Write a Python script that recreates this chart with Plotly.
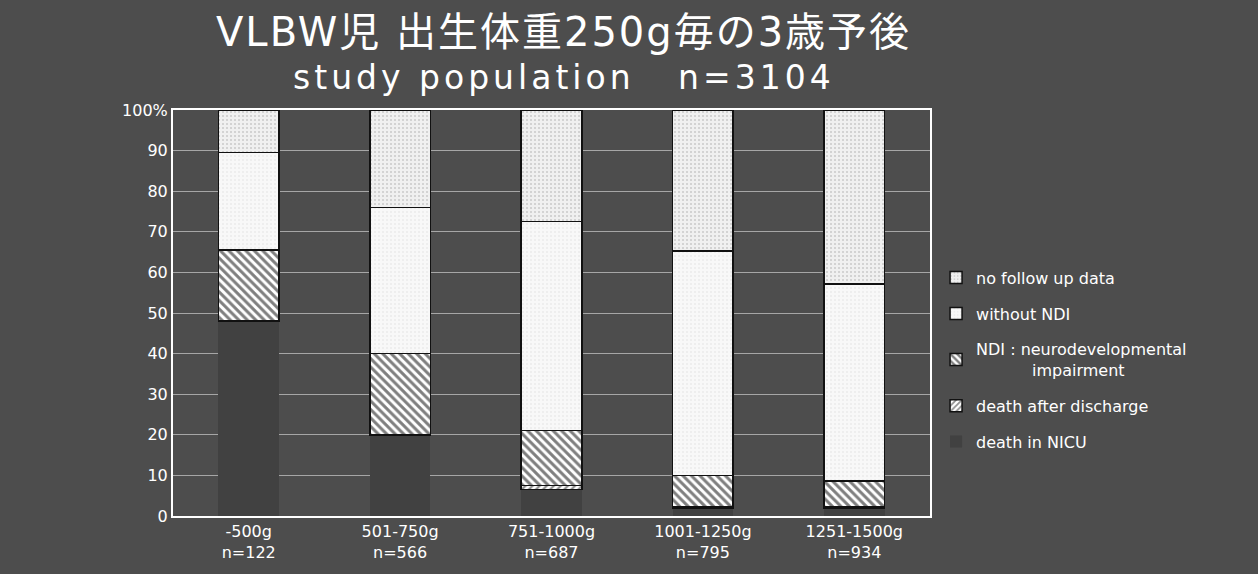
import plotly.graph_objects as go

# Birth-weight groups (250 g bands) and group sizes
categories = ["-500g<br>n=122", "501-750g<br>n=566", "751-1000g<br>n=687",
              "1001-1250g<br>n=795", "1251-1500g<br>n=934"]

# Outcome at 3 years, % of each group (stacked bottom to top)
death_in_nicu = [48.0, 20.0, 6.5, 2.0, 2.0]
death_after_discharge = [0.0, 0.0, 1.0, 0.3, 0.3]
ndi = [17.5, 20.0, 13.5, 7.7, 6.3]
without_ndi = [24.0, 36.0, 51.5, 55.3, 48.6]
no_follow_up = [10.5, 24.0, 27.5, 34.7, 42.8]

y_ticks = [0, 10, 20, 30, 40, 50, 60, 70, 80, 90, 100]
y_ticklabels = ["0", "10", "20", "30", "40", "50", "60", "70", "80", "90", "100%"]

title_main = "VLBW児 出生体重250g毎の3歳予後"
title_sub = "study population   n=3104"

BG = "#4d4d4d"
FONT = "DejaVu Sans, Noto Sans CJK JP, sans-serif"
EDGE = dict(color="#111111", width=1.5)

fig = go.Figure()

fig.add_bar(x=categories, y=death_in_nicu, name="death in NICU",
            legendgroup="a", legendrank=5,
            marker=dict(color="#414141", line=dict(width=0)))
fig.add_bar(x=categories, y=death_after_discharge, name="death after discharge",
            legendgroup="b", legendrank=4,
            marker=dict(color="white", line=EDGE,
                        pattern=dict(shape="/", fgcolor="#222222", bgcolor="white",
                                     size=5, solidity=0.45)))
fig.add_bar(x=categories, y=ndi, name="NDI : neurodevelopmental<br>           impairment",
            legendgroup="c", legendrank=3,
            marker=dict(color="white", line=EDGE,
                        pattern=dict(shape="\\", fgcolor="#000000", bgcolor="white",
                                     size=6, solidity=0.5)))
fig.add_bar(x=categories, y=without_ndi, name="without NDI",
            legendgroup="d", legendrank=2,
            marker=dict(color="#f5f5f5", line=EDGE,
                        pattern=dict(shape=".", fgcolor="#c8c8c8", bgcolor="#f8f8f8",
                                     size=4, solidity=0.12)))
fig.add_bar(x=categories, y=no_follow_up, name="no follow up data",
            legendgroup="e", legendrank=1,
            marker=dict(color="#e8e8e8", line=EDGE,
                        pattern=dict(shape=".", fgcolor="#a8a8a8", bgcolor="#f0f0f0",
                                     size=4, solidity=0.22)))

fig.add_annotation(text="<span style='letter-spacing:2px'>" + title_main + "</span>",
                   xref="paper", yref="paper",
                   x=0.516, y=1.192, xanchor="center", yanchor="middle",
                   showarrow=False, font=dict(size=40, color="white", family=FONT))
fig.add_annotation(text="<span style='letter-spacing:4px'>" + title_sub + "</span>",
                   xref="paper", yref="paper",
                   x=0.516, y=1.080, xanchor="center", yanchor="middle",
                   showarrow=False, font=dict(size=33, color="white", family=FONT))

fig.update_layout(
    barmode="stack",
    bargap=0.6,
    width=1258, height=574,
    paper_bgcolor=BG, plot_bgcolor=BG,
    margin=dict(l=173, r=328, t=110, b=46),
    font=dict(family=FONT, color="white", size=16),
    legend=dict(
        x=1.008, xanchor="left", y=0.385, yanchor="middle",
        traceorder="grouped", tracegroupgap=12,
        font=dict(size=16, color="white"),
        bgcolor="rgba(0,0,0,0)", itemwidth=30,
    ),
    xaxis=dict(
        showline=True, linecolor="white", linewidth=2, mirror=True,
        ticks="", tickfont=dict(size=16, color="white"),
        showgrid=False,
    ),
    yaxis=dict(
        range=[0, 100], tickvals=y_ticks, ticktext=y_ticklabels,
        showline=True, linecolor="white", linewidth=2, mirror=True,
        showgrid=True, gridcolor="rgba(255,255,255,0.5)", gridwidth=1,
        ticks="", tickfont=dict(size=16, color="white"), zeroline=False,
    ),
)

fig.write_html("out.html")
